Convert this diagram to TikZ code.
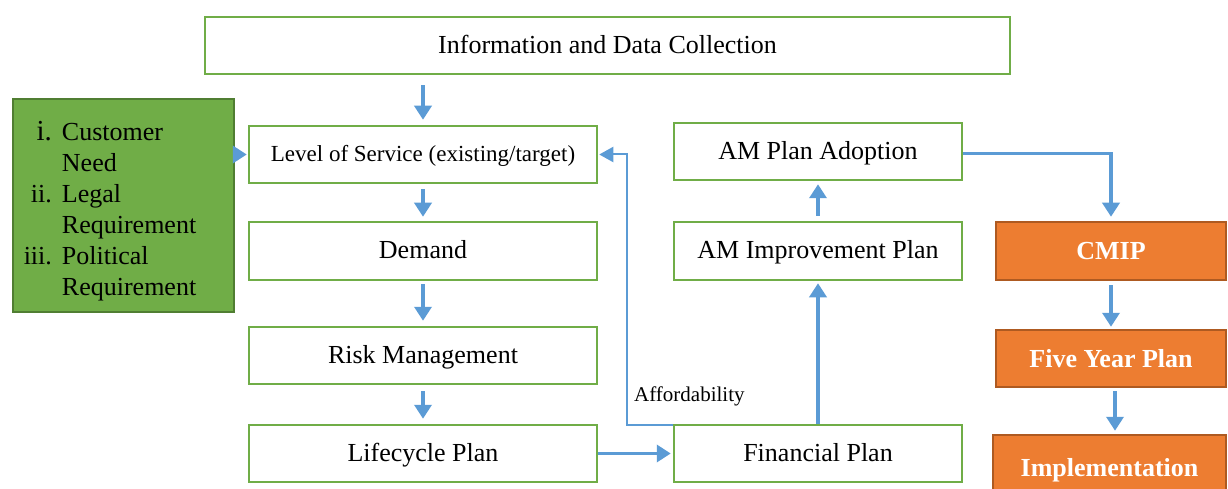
\documentclass[tikz,border=0pt]{standalone}
\usepackage{fontspec}
\setmainfont{Liberation Serif}
\usetikzlibrary{arrows.meta}
\definecolor{boxgreen}{HTML}{70AD47}
\definecolor{darkgreen}{HTML}{507E32}
\definecolor{boxorange}{HTML}{ED7D31}
\definecolor{darkorange}{HTML}{AE5A21}
\definecolor{flowblue}{HTML}{5B9BD5}
\tikzset{
  plainbox/.style={draw=boxgreen, line width=2.5pt, fill=white, minimum height=57pt, inner sep=2pt,
    text depth=0.25em, font=\fontsize{26}{31}\selectfont},
  orangebox/.style={draw=darkorange, line width=2.5pt, fill=boxorange, text=white, minimum height=57pt,
    font=\fontsize{26}{31}\selectfont\bfseries},
  flow/.style={draw=flowblue, line width=3.5pt, -{Triangle[length=14pt,width=17pt]}},
  thinflow/.style={draw=flowblue, line width=2pt, -{Triangle[length=14pt,width=15pt]}}
}
\begin{document}
\begin{tikzpicture}[x=1pt, y=-1pt]
\useasboundingbox (0,0) rectangle (1228,489);

% oben
\node[plainbox, minimum width=805pt] (info) at (607.5,45.5) {Information and Data Collection};

% linke Spalte
\node[plainbox, minimum width=348pt, font=\fontsize{23}{28}\selectfont] (los) at (423,154.5) {Level of Service (existing/target)};
\node[plainbox, minimum width=348pt, minimum height=58pt] (demand) at (423,251) {Demand};
\node[plainbox, minimum width=348pt] (risk) at (423,355.5) {Risk Management};
\node[plainbox, minimum width=348pt] (life) at (423,453.5) {Lifecycle Plan};

% Anforderungen links
\node[draw=darkgreen, line width=2.5pt, fill=boxgreen, minimum width=221pt, minimum height=213pt] (needs) at (123.5,205.5) {};
\node[font=\fontsize{26}{31}\selectfont, inner sep=0pt] (needslist) at (110,212) {%
  \begin{tabular}{@{}r@{\hspace{10pt}}l@{}}
  {\fontsize{29}{31}\selectfont i.} & Customer\\
   & Need\\
  ii. & Legal\\
   & Requirement\\
  iii. & Political\\
   & Requirement
  \end{tabular}};

% mittlere Spalte
\node[plainbox, minimum width=288pt] (adopt) at (818,151.5) {AM Plan Adoption};
\node[plainbox, minimum width=288pt, minimum height=58pt] (amimp) at (818,251) {AM Improvement Plan};
\node[plainbox, minimum width=288pt] (fin) at (818,453.5) {Financial Plan};

% rechte Spalte
\node[orangebox, minimum width=230pt, minimum height=58pt] (cmip) at (1111,251) {CMIP};
\node[orangebox, minimum width=230pt] (five) at (1111,358.5) {Five Year Plan};
\node[orangebox, minimum width=233pt, minimum height=70pt] (impl) at (1109.5,470) {Implementation};

% Pfeile links
\draw[flow, shorten <=10pt, shorten >=5pt] (info.south -| los.north) -- (los.north);
\draw[flow, shorten <=5pt, shorten >=4pt] (los) -- (demand);
\draw[flow, shorten <=3pt, shorten >=5pt] (demand) -- (risk);
\draw[flow, shorten <=6pt, shorten >=5pt] (risk) -- (life);
\draw[flow, shorten >=1pt] (needs.east |- los.west) -- (los.west);

% Pfeile Mitte
\draw[flow, shorten >=2pt] (life) -- (fin);
\draw[flow, shorten >=2pt] (fin) -- (amimp);
\draw[flow, shorten <=5pt, shorten >=3pt] (amimp) -- (adopt);

% Affordability zurueck
\coordinate (aff) at (627,426);
\draw[thinflow, shorten >=1pt] ([yshift=-1pt]fin.north west) -- ([yshift=-1pt]fin.north west -| aff) |- (los.east);
\node[font=\fontsize{21}{25}\selectfont, anchor=west, inner sep=0pt] (afflabel) at (634,396) {Affordability};

% Pfeile rechts
\draw[flow, shorten >=4pt] ([yshift=-2pt]adopt.east) -| (cmip.north);
\draw[flow, shorten <=4pt, shorten >=2pt] (cmip) -- (five);
\draw[flow, shorten <=3pt, shorten >=3pt] ([xshift=4pt]five.south) -- ([xshift=4pt]five.south |- impl.north);

\end{tikzpicture}
\end{document}
